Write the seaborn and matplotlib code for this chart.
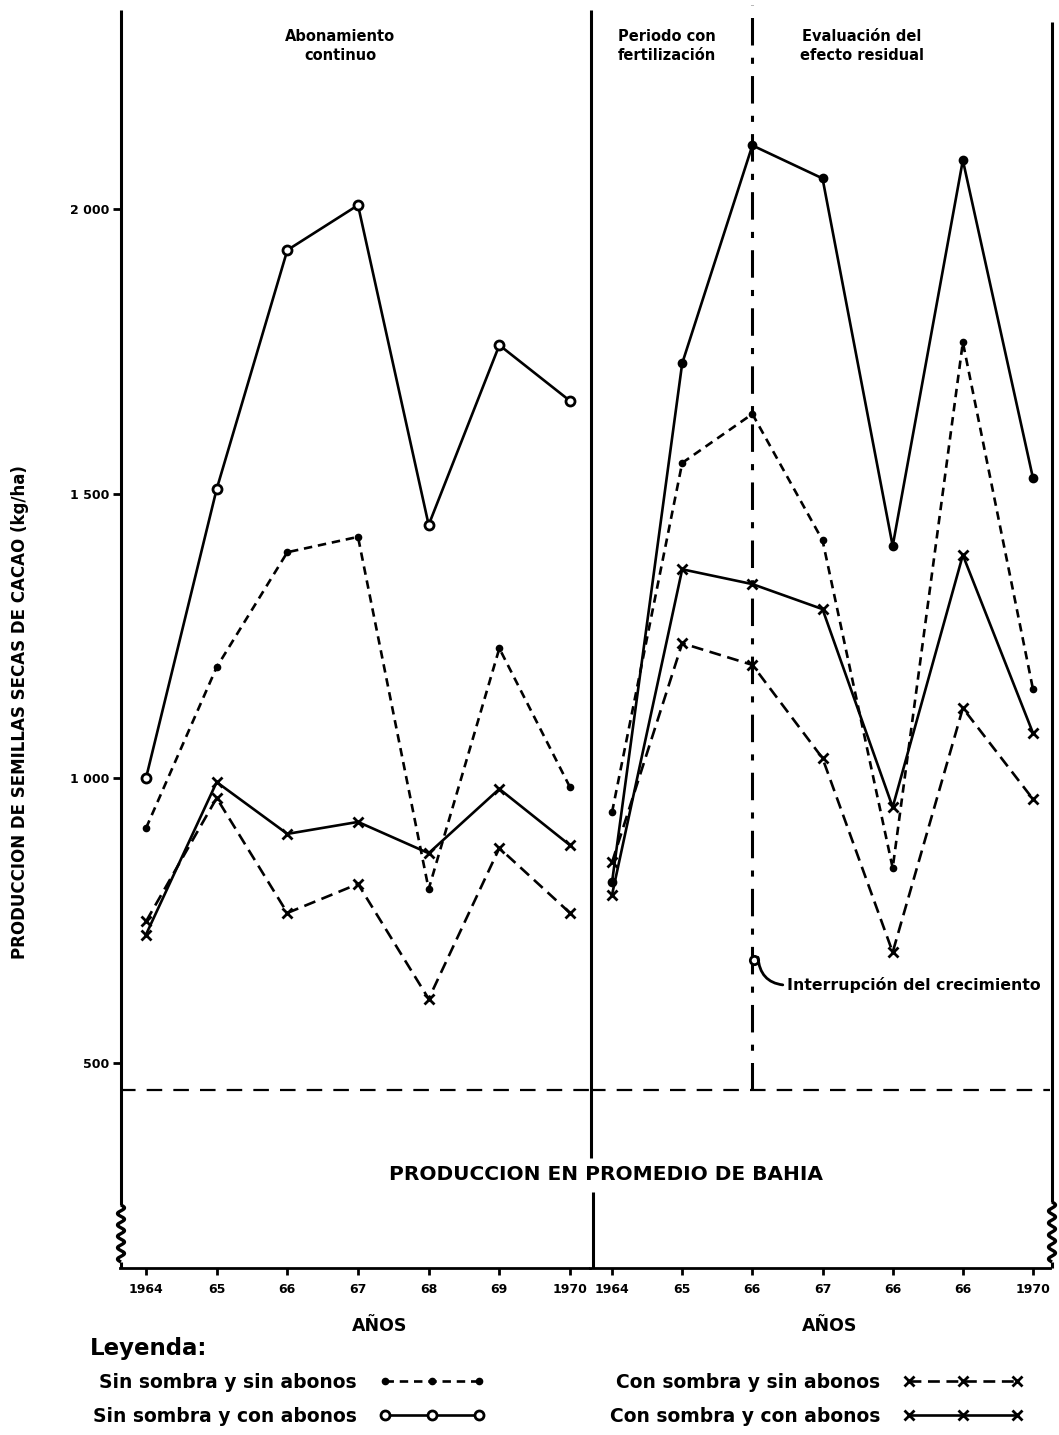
import numpy as np
import pandas as pd
import matplotlib
matplotlib.use("Agg")
import matplotlib.pyplot as plt
import seaborn as sns
from matplotlib.lines import Line2D

sns.set_style("white")
plt.rcParams["font.family"] = ["DejaVu Sans"]
plt.rcParams["font.weight"] = "bold"
for k in ("text.color", "axes.labelcolor", "xtick.color", "ytick.color", "axes.edgecolor"):
    plt.rcParams[k] = "black"

# ---------------- data ----------------
YEARS = [1964, 1965, 1966, 1967, 1968, 1969, 1970]
LEFT_TICKLABELS = ["1964", "65", "66", "67", "68", "69", "1970"]
RIGHT_TICKLABELS = ["1964", "65", "66", "67", "66", "66", "1970"]
Y_TICKS = [500, 1000, 1500, 2000]
Y_TICKLABELS = ["500", "1 000", "1 500", "2 000"]

# Left panel: abonamiento continuo
L_SIN_SIN = [912, 1195, 1397, 1424, 805, 1228, 984]
L_SIN_CON = [1000, 1508, 1928, 2007, 1445, 1761, 1663]
L_CON_SIN = [748, 965, 763, 814, 612, 877, 763]
L_CON_CON = [725, 993, 902, 923, 868, 981, 882]

# Right panel: fertilizacion + efecto residual
R_SIN_SIN = [940, 1554, 1640, 1418, 842, 1766, 1156]
R_SIN_CON = [817, 1729, 2112, 2054, 1408, 2086, 1527]
R_CON_SIN = [852, 1237, 1199, 1035, 694, 1123, 963]
R_CON_CON = [795, 1367, 1341, 1297, 949, 1392, 1079]

BAHIA_AVG = 452
GROWTH_STOP_YEAR = 1966
GROWTH_STOP_VALUE = 680

LABELS = ["Sin sombra y sin abonos", "Sin sombra y con abonos",
          "Con sombra y sin abonos", "Con sombra y con abonos"]

# ---------------- styles ----------------
STY = {
    "sin_sin": dict(linestyle=(0, (3.2, 2.2)), marker="o", markersize=4.5,
                    markerfacecolor="black", markeredgecolor="black", markeredgewidth=1),
    "sin_con": dict(linestyle="-", marker="o", markersize=6.5,
                    markerfacecolor="white", markeredgecolor="black", markeredgewidth=2),
    "sin_con_r": dict(linestyle="-", marker="o", markersize=5.5,
                      markerfacecolor="black", markeredgecolor="black", markeredgewidth=1.5),
    "con_sin": dict(linestyle=(0, (4.5, 2.5)), marker="x", markersize=7.5,
                    markeredgecolor="black", markeredgewidth=2),
    "con_con": dict(linestyle="-", marker="x", markersize=7.5,
                    markeredgecolor="black", markeredgewidth=2),
}
LW = 1.9

W, H = 1059, 1435
fig = plt.figure(figsize=(W / 100, H / 100), dpi=100)

top_px, bot_px = 10, 1268
axL = fig.add_axes([120 / W, 1 - bot_px / H, 470 / W, (bot_px - top_px) / H])
axR = fig.add_axes([590 / W, 1 - bot_px / H, 460 / W, (bot_px - top_px) / H], sharey=axL)

YLIM = (139, 2350)


def draw_panel(ax, series):
    for key, vals in series:
        df = pd.DataFrame({"year": YEARS, "val": vals})
        sns.lineplot(data=df, x="year", y="val", ax=ax, color="black",
                     linewidth=LW, clip_on=False, **STY[key])
    ax.axhline(BAHIA_AVG, color="black", linewidth=1.6, linestyle=(0, (7, 5)))
    ax.set_xlabel("")
    ax.set_ylabel("")


draw_panel(axL, [("sin_sin", L_SIN_SIN), ("sin_con", L_SIN_CON),
                 ("con_sin", L_CON_SIN), ("con_con", L_CON_CON)])
draw_panel(axR, [("sin_sin", R_SIN_SIN), ("sin_con_r", R_SIN_CON),
                 ("con_sin", R_CON_SIN), ("con_con", R_CON_CON)])

axL.set_xlim(1963.632, 1970.283)
axR.set_xlim(1963.686, 1970.242)
axL.set_ylim(*YLIM)

for ax, labs in ((axL, LEFT_TICKLABELS), (axR, RIGHT_TICKLABELS)):
    ax.set_xticks(YEARS)
    ax.set_xticklabels(labs, fontsize=9, fontweight="bold")
    ax.tick_params(axis="x", direction="out", length=5, width=2, pad=6, bottom=True)
    for s in ("top", "right", "left"):
        ax.spines[s].set_visible(False)
    ax.spines["bottom"].set_linewidth(2)
    ax.grid(False)

axL.set_yticks(Y_TICKS)
axL.set_yticklabels(Y_TICKLABELS, fontsize=9, fontweight="bold")
axL.tick_params(axis="y", direction="out", length=5, width=2, pad=3, left=True)
axR.tick_params(axis="y", left=False, labelleft=False)

# growth interruption vertical line
axR.vlines(GROWTH_STOP_YEAR, BAHIA_AVG, YLIM[1] + 8, colors="black",
           linewidth=2.2, linestyles=[(0, (9, 4, 2, 4))], clip_on=False)
axR.plot([GROWTH_STOP_YEAR + 0.03], [GROWTH_STOP_VALUE], marker="o", markersize=6,
         markerfacecolor="white", markeredgecolor="black", markeredgewidth=2)
axR.annotate("Interrupción del crecimiento",
             xy=(GROWTH_STOP_YEAR + 0.08, GROWTH_STOP_VALUE + 5),
             xytext=(GROWTH_STOP_YEAR + 0.50, GROWTH_STOP_VALUE - 44),
             fontsize=11.3, fontweight="bold", ha="left", va="center",
             arrowprops=dict(arrowstyle="-", lw=2, color="black", relpos=(0, 0.5),
                             connectionstyle="arc3,rad=-0.45", shrinkA=1, shrinkB=0))

# spines drawn by hand (with axis-break squiggles)
def fig_line(xs_px, ys_px, lw=2.2):
    fig.add_artist(Line2D(np.asarray(xs_px) / W, 1 - np.asarray(ys_px) / H,
                          transform=fig.transFigure, color="black", linewidth=lw,
                          solid_capstyle="butt"))


def spine_with_break(x, y0, yb0, yb1, y1, amp=3.5, waves=5):
    fig_line([x, x], [y0, yb0])
    t = np.linspace(0, 1, 200)
    yy = yb0 + (yb1 - yb0) * t
    xx = x + amp * np.sin(2 * np.pi * waves * t)
    fig_line(xx, yy, lw=2.4)
    fig_line([x, x], [yb1, y1])


spine_with_break(121, 10, 1205, 1262, 1268)
spine_with_break(1052, 22, 1202, 1262, 1268)
fig_line([591, 591], [10, 1158])
fig_line([593, 593], [1192, 1268])

# texts
hdr = dict(ha="center", va="center", fontsize=10.5, fontweight="bold", linespacing=1.3)
fig.text(340 / W, 1 - 46 / H, "Abonamiento\ncontinuo", **hdr)
fig.text(667 / W, 1 - 46 / H, "Periodo con\nfertilización", **hdr)
fig.text(862 / W, 1 - 46 / H, "Evaluación del\nefecto residual", **hdr)
fig.text(606 / W, 1 - 1175 / H, "PRODUCCION EN PROMEDIO DE BAHIA", ha="center", va="center",
         fontsize=14.5, fontweight="bold")
fig.text(20 / W, 1 - 712 / H, "PRODUCCION DE SEMILLAS SECAS DE CACAO (kg/ha)",
         ha="center", va="center", rotation=90, fontsize=12, fontweight="bold")
fig.text(380 / W, 1 - 1326 / H, "AÑOS", ha="center", va="center", fontsize=12.5, fontweight="bold")
fig.text(830 / W, 1 - 1326 / H, "AÑOS", ha="center", va="center", fontsize=12.5, fontweight="bold")
fig.text(90 / W, 1 - 1348 / H, "Leyenda:", ha="left", va="center", fontsize=16.5, fontweight="bold")

# legend
handles = [Line2D([], [], color="black", linewidth=LW, **STY[k])
           for k in ("sin_sin", "sin_con", "con_sin", "con_con")]
common = dict(frameon=False, markerfirst=False, numpoints=3,
              handletextpad=1.2, borderpad=0, borderaxespad=0, labelspacing=0.8,
              prop={"weight": "bold", "size": 13.5, "family": "DejaVu Sans"})
fig.legend(handles[:2], LABELS[:2], loc="upper left", handlelength=5.6,
           bbox_to_anchor=(93 / W, 1 - 1373 / H), **common)
fig.legend(handles[2:], LABELS[2:], loc="upper left", handlelength=6.4,
           bbox_to_anchor=(610 / W, 1 - 1373 / H), **common)

fig.savefig("out.png", dpi=100)
